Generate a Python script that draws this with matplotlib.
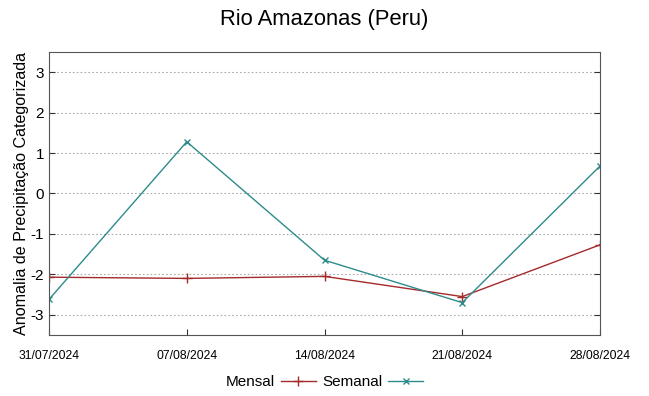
import matplotlib
matplotlib.use("Agg")
import matplotlib.pyplot as plt

plt.rcParams['font.family'] = ['Liberation Sans', 'DejaVu Sans']

dates = ["31/07/2024", "07/08/2024", "14/08/2024", "21/08/2024", "28/08/2024"]
mensal = [-2.07, -2.10, -2.05, -2.55, -1.27]
semanal = [-2.62, 1.28, -1.65, -2.70, 0.68]
yticks = [-3, -2, -1, 0, 1, 2, 3]

fig = plt.figure(figsize=(6.49, 3.96), dpi=100)
ax = fig.add_axes([49/649, 1-335/396, (600-49)/649, (335-52)/396])

x = list(range(len(dates)))
ax.plot(x, mensal, color='#a52a2a', lw=1, marker='+', ms=7, mew=1, label='Mensal')
ax.plot(x, semanal, color='#2e8b8b', lw=1, marker='x', ms=5, mew=1, label='Semanal')

ax.set_xlim(0, 4)
ax.set_ylim(-3.5, 3.5)
ax.set_xticks(x)
ax.set_xticklabels(dates, fontsize=8.7)
ax.set_yticks(yticks)
ax.set_yticklabels([str(v) for v in yticks], fontsize=11)
ax.tick_params(direction='in', right=True, top=False, length=4, color='#333333')
ax.tick_params(axis='x', pad=11)
ax.grid(axis='y', linestyle=(0, (1.5, 2)), color='#aaaaaa', lw=0.8)
for s in ax.spines.values():
    s.set_color('#555555')
ax.set_ylabel('Anomalia de Precipitação Categorizada', fontsize=11.6, labelpad=1)
fig.text(0.5, 1-20/396, 'Rio Amazonas (Peru)', fontsize=15.8, ha='center', va='center')

ax.legend(loc='center', bbox_to_anchor=(0.5, (335-382)/(335-52)), ncol=2, frameon=False,
          markerfirst=False, fontsize=11, handlelength=2.3, columnspacing=0.4, handletextpad=0.4)

fig.savefig('out.png', dpi=100)
